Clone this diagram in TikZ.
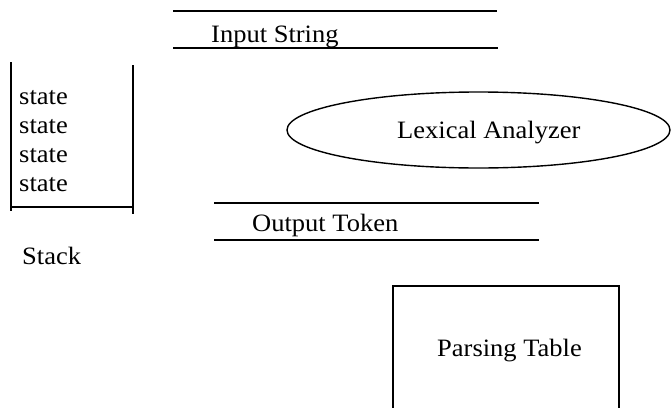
\documentclass[tikz,border=0pt]{standalone}
\usepackage{fontspec}
\setmainfont{Liberation Serif}
\usetikzlibrary{shapes.geometric}
\tikzset{
  lbl/.style={anchor=base west, inner sep=0pt, font=\fontsize{25}{29}\selectfont},
  thick line/.style={line width=1.9pt, line cap=rect},
}
\newcommand{\wide}[1]{\scalebox{1.06}[1]{#1}}
\begin{document}
\begin{tikzpicture}[x=1pt, y=-1pt]
\useasboundingbox (0,0) rectangle (671,407);
\clip (0,0) rectangle (671,407);
% Input String
\draw[thick line] (174,11) -- (496,11);
\draw[thick line] (174,48) -- (497,48);
\node[lbl] (input) at (211,42) {\wide{Input String}};
% Stack
\draw[thick line] (11,63) -- (11,210);
\draw[thick line] (133,66) -- (133,213);
\draw[thick line] (11,207) -- (133,207);
\node[lbl] (s1) at (19,104) {\wide{state}};
\node[lbl] (s2) at (19,133) {\wide{state}};
\node[lbl] (s3) at (19,162) {\wide{state}};
\node[lbl] (s4) at (19,191) {\wide{state}};
\node[lbl] (stack) at (22,264) {\wide{Stack}};
% Lexical Analyzer
\draw[line width=1.4pt] (478.5,130) ellipse [x radius=191.5, y radius=38];
\node[lbl] (lex) at (397,138) {\wide{Lexical Analyzer}};
% Output Token
\draw[thick line] (215,203) -- (538,203);
\draw[thick line] (215,240) -- (538,240);
\node[lbl] (out) at (252,231) {\wide{Output Token}};
% Parsing Table
\draw[thick line] (393,410) -- (393,286) -- (619,286) -- (619,410);
\node[lbl] (pt) at (437,356) {\wide{Parsing Table}};
\end{tikzpicture}
\end{document}
